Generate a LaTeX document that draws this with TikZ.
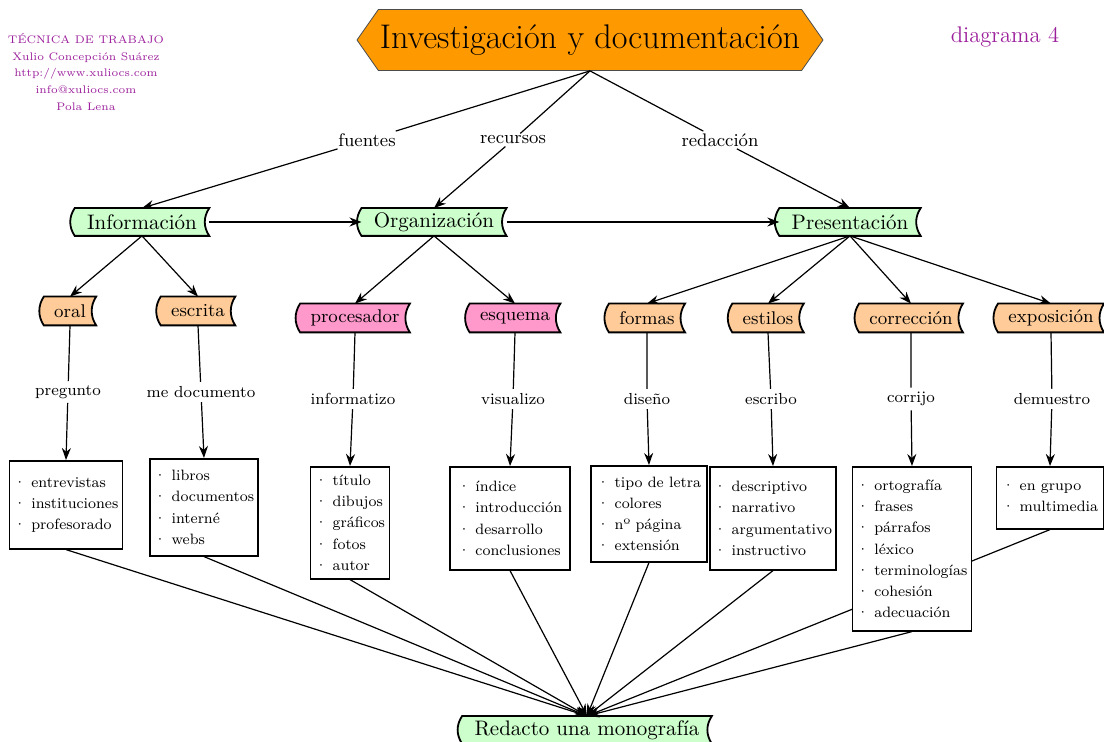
\documentclass[tikz,border=0pt]{standalone}
\usepackage{tikz}
\usetikzlibrary{positioning,arrows.meta,shapes.symbols,backgrounds}

\definecolor{verde}{RGB}{204,255,204}
\definecolor{naranja}{RGB}{255,204,153}
\definecolor{rosa}{RGB}{255,153,204}
\definecolor{titulo}{RGB}{255,153,0}
\definecolor{morado}{RGB}{155,30,155}

\begin{document}
\begin{tikzpicture}[
    x=0.5pt, y=-0.5pt,
    titular/.style={signal, signal to=west and east, signal pointer angle=110, draw=black!70, fill=titulo, minimum width=233pt, minimum height=30.5pt, inner sep=0pt, font=\fontsize{17.1}{20}\selectfont},
    rama/.style={inner xsep=6pt, inner ysep=0pt, minimum height=13.5pt, font=\fontsize{10.5}{12}\selectfont},
    hoja/.style={inner xsep=5pt, inner ysep=0pt, minimum height=14pt, font=\fontsize{9.2}{11}\selectfont},
    enlace/.style={inner sep=1pt, font=\fontsize{9.1}{11}\selectfont},
    verbo/.style={inner sep=2pt, font=\fontsize{8}{10}\selectfont},
    caja/.style={draw, fill=white, line width=0.8pt, anchor=north, minimum width=#1, align=left, inner xsep=2pt, inner ysep=3pt, font=\fontsize{7.5}{10.6}\selectfont},
    arrow/.style={-{Stealth[length=6pt,width=4.5pt]}, semithick}
]
\useasboundingbox (0,0) rectangle (1104,742);

% Header
\node (autor) [text=morado, align=center, font=\fontsize{5.5}{8.3}\selectfont] at (86,72) {TÉCNICA DE TRABAJO\\Xulio Concepción Suárez\\http://www.xuliocs.com\\info@xuliocs.com\\Pola Lena};
\node (diagrama) [text=morado, font=\fontsize{11.3}{13}\selectfont] at (1005,37) {diagrama 4};
\node (titulo) [titular] at (590,40) {Investigación y documentación};

% Links under the title
\node (fuentes) [enlace] at (367,140) {fuentes};
\node (recursos) [enlace] at (513,140) {recursos};
\node (redaccion) [enlace] at (720,140) {redacción};

% Main branches
\node (info) [rama] at (142,222) {Información};
\node (org) [rama] at (434,222) {Organización};
\node (pres) [rama] at (850,222) {Presentación};

% Sub-branches
\node (oral) [hoja] at (70,311) {oral};
\node (escrita) [hoja] at (198,311) {escrita};
\node (proc) [hoja] at (355,318) {procesador};
\node (esquema) [hoja] at (515,318) {esquema};
\node (formas) [hoja] at (647,318) {formas};
\node (estilos) [hoja] at (768,318) {estilos};
\node (correccion) [hoja] at (911,318) {corrección};
\node (exposicion) [hoja] at (1051,318) {exposición};

% Verbs
\node (pregunto) [verbo] at (68,392) {pregunto};
\node (medoc) [verbo] at (201,392) {me documento};
\node (informatizo) [verbo] at (353,399) {informatizo};
\node (visualizo) [verbo] at (513,399) {visualizo};
\node (diseno) [verbo] at (647,399) {diseño};
\node (escribo) [verbo] at (771,399) {escribo};
\node (corrijo) [verbo] at (911,399) {corrijo};
\node (demuestro) [verbo] at (1052,399) {demuestro};

% Lists
\node (b1) [caja=56pt, minimum height=44pt] at (66,460) {· entrevistas\\· instituciones\\· profesorado};
\node (b2) [caja=51pt, minimum height=48.5pt] at (204,458) {· libros\\· documentos\\· interné\\· webs};
\node (b3) [caja=39.5pt, minimum height=56pt] at (350,466) {· título\\· dibujos\\· gráficos\\· fotos\\· autor};
\node (b4) [caja=60pt, minimum height=51.5pt] at (510,466) {· índice\\· introducción\\· desarrollo\\· conclusiones};
\node (b5) [caja=58pt, minimum height=48pt] at (649,465) {· tipo de letra\\· colores\\· nº página\\· extensión};
\node (b6) [caja=61.5pt, minimum height=51.5pt] at (773,466) {· descriptivo\\· narrativo\\· argumentativo\\· instructivo};
\node (b7) [caja=57pt, minimum height=82pt] at (912,466) {· ortografía\\· frases\\· párrafos\\· léxico\\· terminologías\\· cohesión\\· adecuación};
\node (b8) [caja=53.5pt, minimum height=31pt] at (1050,466) {· en grupo\\· multimedia};

% Goal
\node (monografia) [rama, anchor=north] at (587,716) {Redacto una monografía};

% Scroll outlines and converging lines
\begin{scope}[on background layer]
\foreach \n/\c in {info/verde, org/verde, pres/verde, monografia/verde, oral/naranja, escrita/naranja, proc/rosa, esquema/rosa, formas/naranja, estilos/naranja, correccion/naranja, exposicion/naranja}
  \draw[fill=\c, line width=0.9pt] (\n.north west) -- (\n.north east)
    .. controls +(-3pt,-4.5pt) and +(-3pt,4.5pt) .. (\n.south east) -- (\n.south west)
    .. controls +(-3pt,4.5pt) and +(-3pt,-4.5pt) .. (\n.north west) -- cycle;
\foreach \b in {b1,b2,b3,b4,b5,b6,b7,b8}
  \draw[arrow] (\b.south) -- (monografia.north);
\end{scope}

% Arrows
\draw[arrow] (titulo.south) -- (fuentes) -- (info.north);
\draw[arrow] (titulo.south) -- (recursos) -- (org.north);
\draw[arrow] (titulo.south) -- (redaccion) -- (pres.north);
\draw[arrow] (info) -- (org);
\draw[arrow] (org) -- (pres);
\draw[arrow] (info.south) -- (oral.north);
\draw[arrow] (info.south) -- (escrita.north);
\draw[arrow] (org.south) -- (proc.north);
\draw[arrow] (org.south) -- (esquema.north);
\draw[arrow] (pres.south) -- (formas.north);
\draw[arrow] (pres.south) -- (estilos.north);
\draw[arrow] (pres.south) -- (correccion.north);
\draw[arrow] (pres.south) -- (exposicion.north);
\draw[arrow] (oral.south) -- (pregunto) -- (b1.north);
\draw[arrow] (escrita.south) -- (medoc) -- (b2.north);
\draw[arrow] (proc.south) -- (informatizo) -- (b3.north);
\draw[arrow] (esquema.south) -- (visualizo) -- (b4.north);
\draw[arrow] (formas.south) -- (diseno) -- (b5.north);
\draw[arrow] (estilos.south) -- (escribo) -- (b6.north);
\draw[arrow] (correccion.south) -- (corrijo) -- (b7.north);
\draw[arrow] (exposicion.south) -- (demuestro) -- (b8.north);

\end{tikzpicture}
\end{document}
